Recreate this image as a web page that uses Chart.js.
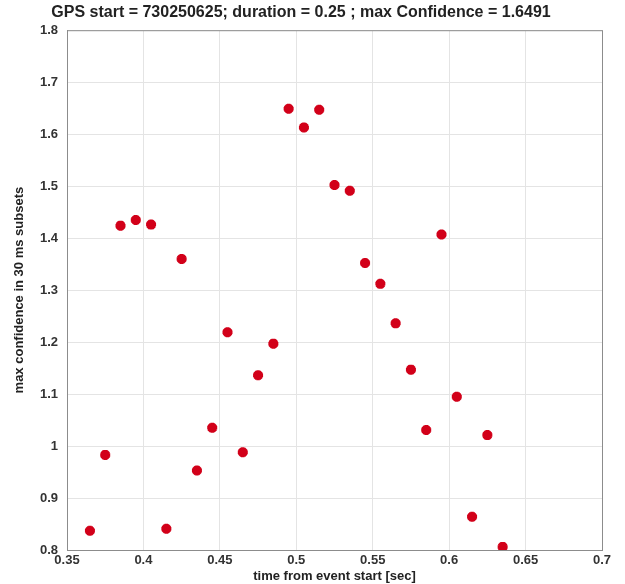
<!DOCTYPE html>
<html>
<head>
<meta charset="utf-8">
<script src="https://cdn.jsdelivr.net/npm/chart.js@4"></script>
<style>
  html, body { margin: 0; padding: 0; background: #fff; }
  #wrap { width: 625px; height: 584px; }
</style>
</head>
<body>
<div id="wrap"><canvas id="myChart" width="625" height="584"></canvas></div>
<script>
// time from event start [sec]
const timeSec = [0.365, 0.375, 0.385, 0.395, 0.405, 0.415, 0.425, 0.435, 0.445, 0.455,
                 0.465, 0.475, 0.485, 0.495, 0.505, 0.515, 0.525, 0.535, 0.545, 0.555,
                 0.565, 0.575, 0.585, 0.595, 0.605, 0.615, 0.625, 0.635];
// max confidence in 30 ms subsets
const maxConf = [0.837, 0.983, 1.424, 1.435, 1.426, 0.841, 1.360, 0.953, 1.035, 1.219,
                 0.988, 1.136, 1.197, 1.649, 1.613, 1.647, 1.502, 1.491, 1.352, 1.312,
                 1.236, 1.147, 1.031, 1.407, 1.095, 0.864, 1.021, 0.806];

const xTicks = [0.35, 0.4, 0.45, 0.5, 0.55, 0.6, 0.65, 0.7];
const xTickLabels = ["0.35", "0.4", "0.45", "0.5", "0.55", "0.6", "0.65", "0.7"];
const yTicks = [0.8, 0.9, 1.0, 1.1, 1.2, 1.3, 1.4, 1.5, 1.6, 1.7, 1.8];
const yTickLabels = ["0.8", "0.9", "1", "1.1", "1.2", "1.3", "1.4", "1.5", "1.6", "1.7", "1.8"];

const titleText = "GPS start = 730250625; duration = 0.25 ; max Confidence = 1.6491";

// box around the axes, like matlab
const boxPlugin = {
  id: "axesBox",
  afterDraw(chart) {
    const { ctx, chartArea } = chart;
    ctx.save();
    ctx.strokeStyle = "#8c8c8c";
    ctx.lineWidth = 1;
    ctx.strokeRect(chartArea.left + 0.5, chartArea.top + 0.5,
                   chartArea.right - chartArea.left, chartArea.bottom - chartArea.top);
    ctx.restore();
  }
};

const font = "'Liberation Sans', Arial, sans-serif";

const ctx = document.getElementById("myChart").getContext("2d");
new Chart(ctx, {
  type: "scatter",
  data: {
    datasets: [{
      label: "max confidence",
      data: timeSec.map((t, i) => ({ x: t, y: maxConf[i] })),
      pointStyle: "star",
      radius: 5,
      borderWidth: 3.5,
      borderColor: "rgb(210, 0, 25)",
      backgroundColor: "rgb(210, 0, 25)"
    }]
  },
  options: {
    responsive: false,
    animation: false,
    layout: { padding: { left: 0, right: 23, top: 0, bottom: 0 } },
    plugins: {
      legend: { display: false },
      tooltip: { enabled: false },
      title: {
        display: true,
        text: titleText,
        color: "#222",
        font: { family: font, size: 16, weight: "bold" },
        padding: { top: 3, bottom: 8 }
      }
    },
    scales: {
      x: {
        type: "linear",
        min: 0.35,
        max: 0.7,
        afterBuildTicks: (scale) => { scale.ticks = xTicks.map(v => ({ value: v })); },
        afterFit: (scale) => { scale.height = 34; },
        ticks: {
          color: "#333",
          padding: 3,
          maxRotation: 0,
          font: { family: font, size: 13, weight: "bold" },
          callback: (v, i) => xTickLabels[i]
        },
        grid: { color: "#e4e4e4", tickLength: 0 },
        border: { color: "#8c8c8c" },
        title: {
          display: true,
          text: "time from event start [sec]",
          color: "#222",
          font: { family: font, size: 13, weight: "bold" },
          padding: { top: -2, bottom: 0 }
        }
      },
      y: {
        type: "linear",
        min: 0.8,
        max: 1.8,
        afterBuildTicks: (scale) => { scale.ticks = yTicks.map(v => ({ value: v })); },
        afterFit: (scale) => { scale.width = 67; },
        ticks: {
          color: "#333",
          padding: 9,
          font: { family: font, size: 13, weight: "bold" },
          callback: (v, i) => yTickLabels[i]
        },
        grid: { color: "#e4e4e4", tickLength: 0 },
        border: { color: "#8c8c8c" },
        title: {
          display: true,
          text: "max confidence in 30 ms subsets",
          color: "#222",
          font: { family: font, size: 13, weight: "bold" },
          padding: { top: 12, bottom: 0 }
        }
      }
    }
  },
  plugins: [boxPlugin]
});
</script>
</body>
</html>
